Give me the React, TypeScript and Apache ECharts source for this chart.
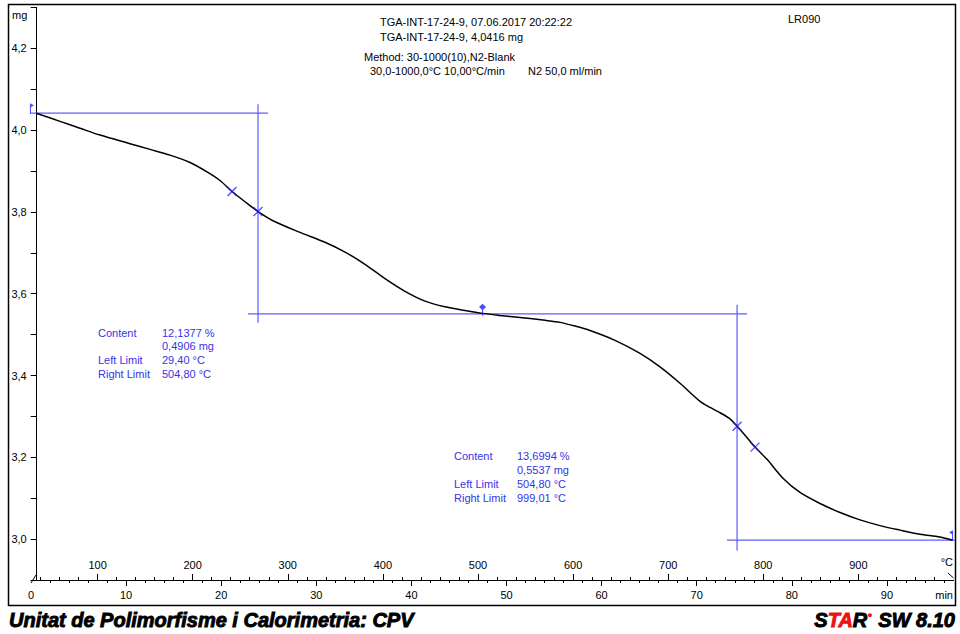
import React, { useEffect, useRef } from "react";
import * as echarts from "echarts";

// ---- data ----
const curveTime = [0.55, 3.05, 5.15, 7.26, 10.41, 12.51, 14.62, 16.72, 18.51, 19.87, 21.14, 22.5, 23.87, 25.66, 28.29, 30.91, 33.02, 35.12, 37.22, 39.33, 41.43, 43.53, 45.64, 47.48, 49.32, 51.42, 54.05, 55.63, 57.2, 58.78, 61.41, 64.04, 66.14, 68.24, 70.35, 71.4, 72.45, 73.5, 74.24, 75.08, 76.13, 77.39, 79.07, 80.86, 82.97, 85.07, 87.17, 89.27, 91.38, 93.48, 95.58, 96.9];
const curveMass = [4.0416, 4.0216, 4.0048, 3.988, 3.967, 3.953, 3.939, 3.921, 3.898, 3.877, 3.85, 3.825, 3.801, 3.776, 3.75, 3.726, 3.702, 3.672, 3.637, 3.606, 3.582, 3.568, 3.559, 3.552, 3.547, 3.542, 3.535, 3.53, 3.521, 3.51, 3.486, 3.454, 3.421, 3.381, 3.337, 3.322, 3.309, 3.294, 3.276, 3.254, 3.225, 3.195, 3.149, 3.114, 3.087, 3.065, 3.047, 3.033, 3.022, 3.012, 3.005, 2.9973];

const stepLevels = [4.0416, 3.551, 2.9973]; // mg
const limitTemps = [29.4, 504.8, 999.01]; // °C
const midTimes = [23.87, 74.24]; // min (step midpoints)
const midMass = [3.801, 3.276];
const onsetTimes = [21.14, 76.13];
const onsetMass = [3.85, 3.225];

const startTemp = 30; // °C
const heatingRate = 10; // °C/min

const timeMajor = [0, 10, 20, 30, 40, 50, 60, 70, 80, 90];
const timeMinor = [2, 4, 6, 8, 12, 14, 16, 18, 22, 24, 26, 28, 32, 34, 36, 38, 42, 44, 46, 48, 52, 54, 56, 58, 62, 64, 66, 68, 72, 74, 76, 78, 82, 84, 86, 88, 92, 94, 96];
const tempMajor = [100, 200, 300, 400, 500, 600, 700, 800, 900];
const tempMinor = [40, 60, 80, 120, 140, 160, 180, 220, 240, 260, 280, 320, 340, 360, 380, 420, 440, 460, 480, 520, 540, 560, 580, 620, 640, 660, 680, 720, 740, 760, 780, 820, 840, 860, 880, 920, 940, 960, 980];

const headerLines = ["TGA-INT-17-24-9, 07.06.2017 20:22:22", "TGA-INT-17-24-9, 4,0416 mg", "Method: 30-1000(10),N2-Blank", "30,0-1000,0°C 10,00°C/min", "N2 50,0 ml/min"];
const resultLabels = ["Content", "", "Left Limit", "Right Limit"];
const step1Values = ["12,1377 %", "0,4906 mg", "29,40 °C", "504,80 °C"];
const step2Values = ["13,6994 %", "0,5537 mg", "504,80 °C", "999,01 °C"];

const FONT = "'Liberation Sans', Arial, Helvetica, sans-serif";
const BLUE_LINE = "#5c5cff";
const BLUE_TEXT = "#3434e8";
const BLUE_MARK = "#1f1fff";

const tAt = (T: number) => (T - startTemp) / heatingRate;

export default function App() {
  const ref = useRef<HTMLDivElement>(null);
  useEffect(() => {
    if (!ref.current) return;
    const chart = echarts.init(ref.current, null, { renderer: "svg" });

    const padT = 1.05;
    const padM = 0.022;
    const tL = tAt(limitTemps[0]);
    const tR = tAt(limitTemps[2]);
    const tMid = tAt(limitTemps[1]);

    const seg = (pts: number[][]) => ({
      type: "line",
      data: pts,
      clip: false,
      symbol: "none",
      silent: true,
      lineStyle: { color: BLUE_LINE, width: 1.2 },
      z: 1,
    });

    const blueLines = [
      seg([[tL - padT, stepLevels[0]], [midTimes[0] + padT, stepLevels[0]]]),
      seg([[midTimes[0], stepLevels[0] + padM], [midTimes[0], stepLevels[1] - padM]]),
      seg([[midTimes[0] - padT, stepLevels[1]], [midTimes[1] + padT, stepLevels[1]]]),
      seg([[midTimes[1], stepLevels[1] + padM], [midTimes[1], stepLevels[2] - padM * 1.15]]),
      seg([[midTimes[1] - padT, stepLevels[2]], [tR + 0.5, stepLevels[2]]]),
    ];

    const txt = (x: number, y: number, text: string, fill = "#000", size = 11, align = "left") => ({
      type: "text",
      x,
      y,
      silent: true,
      style: { text, fill, font: `${size}px ${FONT}`, align, verticalAlign: "middle" },
    });

    const resultTexts: any[] = [];
    const rowY1 = [332.7, 346.3, 360, 374];
    const rowY2 = [456, 470.3, 484, 498.3];
    resultLabels.forEach((l, i) => {
      if (l) resultTexts.push(txt(98, rowY1[i], l, BLUE_TEXT));
      resultTexts.push(txt(162, rowY1[i], step1Values[i], BLUE_TEXT));
      if (l) resultTexts.push(txt(454, rowY2[i], l, BLUE_TEXT));
      resultTexts.push(txt(517, rowY2[i], step2Values[i], BLUE_TEXT));
    });

    const footFont = `italic bold 20px ${FONT}`;

    const option: any = {
      animation: false,
      backgroundColor: "#fff",
      textStyle: { fontFamily: FONT },
      grid: { left: 31, right: 6.5, top: 7.5, bottom: 54 },
      xAxis: [
        {
          type: "value", min: 0, max: 97, position: "bottom",
          axisLine: { show: true, onZero: false, lineStyle: { color: "#000", width: 1 } },
          splitLine: { show: false },
          axisTick: { show: true, customValues: timeMajor.slice(1), length: 6, lineStyle: { color: "#000" } },
          axisLabel: { customValues: timeMajor, margin: 9, color: "#000", fontSize: 11, fontFamily: FONT },
        },
        {
          type: "value", min: 0, max: 97, position: "bottom",
          axisLine: { show: false }, splitLine: { show: false },
          axisTick: { show: true, customValues: timeMinor, length: 3, lineStyle: { color: "#000" } },
          axisLabel: { show: false },
        },
        {
          type: "value", min: startTemp, max: startTemp + 97 * heatingRate, position: "bottom",
          axisLine: { show: false }, splitLine: { show: false },
          axisTick: { show: true, inside: true, customValues: tempMajor, length: 6, lineStyle: { color: "#000" } },
          axisLabel: { inside: true, customValues: tempMajor, margin: 10, color: "#000", fontSize: 11, fontFamily: FONT },
        },
        {
          type: "value", min: startTemp, max: startTemp + 97 * heatingRate, position: "bottom",
          axisLine: { show: false }, splitLine: { show: false },
          axisTick: { show: true, inside: true, customValues: tempMinor, length: 3, lineStyle: { color: "#000" } },
          axisLabel: { show: false },
        },
      ],
      yAxis: {
        type: "value", min: 2.9, max: 4.3, interval: 0.1, offset: -5.7,
        axisLine: { show: true, onZero: false, lineStyle: { color: "#000", width: 1 } },
        axisTick: { show: true, length: 6, lineStyle: { color: "#000" } },
        splitLine: { show: false },
        axisLabel: {
          margin: 10, color: "#000", fontSize: 11, fontFamily: FONT,
          formatter: (v: number) => {
            const k = Math.round(v * 10);
            return k % 2 === 0 && k >= 30 && k <= 42 ? (k / 10).toFixed(1).replace(".", ",") : "";
          },
        },
      },
      series: [
        ...blueLines,
        {
          type: "line",
          data: curveTime.map((t, i) => [t, curveMass[i]]),
          smooth: 0.3,
          symbol: "none",
          lineStyle: { color: "#000", width: 1.5 },
          z: 3,
        },
        {
          type: "scatter",
          data: [...onsetTimes.map((t, i) => [t, onsetMass[i]]), ...midTimes.map((t, i) => [t, midMass[i]])],
          symbol: "path://M0 0L10 10M10 0L0 10",
          symbolSize: 9,
          itemStyle: { color: "rgba(0,0,0,0)", borderColor: BLUE_MARK, borderWidth: 1.3 },
          z: 4,
        },
        {
          type: "scatter", clip: false,
          data: [[tMid, stepLevels[1]]],
          symbol: "path://M3 0L6 3L3 6L0 3Z M2.5 5 L3.5 5 L3.5 11 L2.5 11 Z",
          symbolSize: [7, 12],
          symbolOffset: [0, -4],
          itemStyle: { color: BLUE_MARK },
          z: 4,
        },
        {
          type: "scatter", clip: false,
          data: [[tL, stepLevels[0]]],
          symbol: "path://M0 0L4 2L1 4L1 10L0 10Z",
          symbolSize: [4, 10],
          symbolOffset: [1.5, -5],
          itemStyle: { color: BLUE_MARK },
          z: 4,
        },
        {
          type: "scatter", clip: false,
          data: [[tR, stepLevels[2]]],
          symbol: "path://M4 0L0 2L3 4L3 10L4 10Z",
          symbolSize: [4, 10],
          symbolOffset: [-1.5, -5],
          itemStyle: { color: BLUE_MARK },
          z: 4,
        },
      ],
      graphic: [
        { type: "rect", silent: true, shape: { x: 8.5, y: 4.5, width: 947, height: 601 }, style: { fill: "none", stroke: "#000", lineWidth: 1.5 } },
        { type: "line", silent: true, shape: { x1: 31, y1: 583, x2: 36, y2: 575 }, style: { stroke: "#000", lineWidth: 1 } },
        { type: "line", silent: true, shape: { x1: 948, y1: 573, x2: 953.5, y2: 578 }, style: { stroke: "#000", lineWidth: 1 } },
        txt(380, 22, headerLines[0]),
        txt(380, 37, headerLines[1]),
        txt(364, 57, headerLines[2]),
        txt(370, 71, headerLines[3]),
        txt(528, 71, headerLines[4]),
        txt(788, 19, "LR090"),
        txt(12, 15, "mg"),
        txt(953, 562, "°C", "#000", 11, "right"),
        txt(953, 595, "min", "#000", 11, "right"),
        ...resultTexts,
        {
          type: "text", x: 9, y: 620, silent: true,
          style: { text: "Unitat de Polimorfisme i Calorimetria: CPV", fill: "#000", stroke: "#000", lineWidth: 0.9, font: footFont, verticalAlign: "middle" },
        },
        {
          type: "text", x: 955, y: 620, silent: true,
          style: {
            text: "{k|S}{r|TA}{k|R}{d|●}{k| SW 8.10}",
            align: "right", verticalAlign: "middle",
            rich: {
              k: { fill: "#000", stroke: "#000", lineWidth: 0.9, fontSize: 20, fontWeight: "bold", fontStyle: "italic", fontFamily: FONT },
              r: { fill: "#ee1111", stroke: "#ee1111", lineWidth: 0.9, fontSize: 20, fontWeight: "bold", fontStyle: "italic", fontFamily: FONT },
              d: { fill: "#ee1111", fontSize: 9, verticalAlign: "top", fontFamily: FONT },
            },
          },
        },
      ],
    };
    chart.setOption(option);
    return () => chart.dispose();
  }, []);
  return <div ref={ref} style={{ position: "absolute", left: 0, top: 0, width: 960, height: 634 }} />;
}
